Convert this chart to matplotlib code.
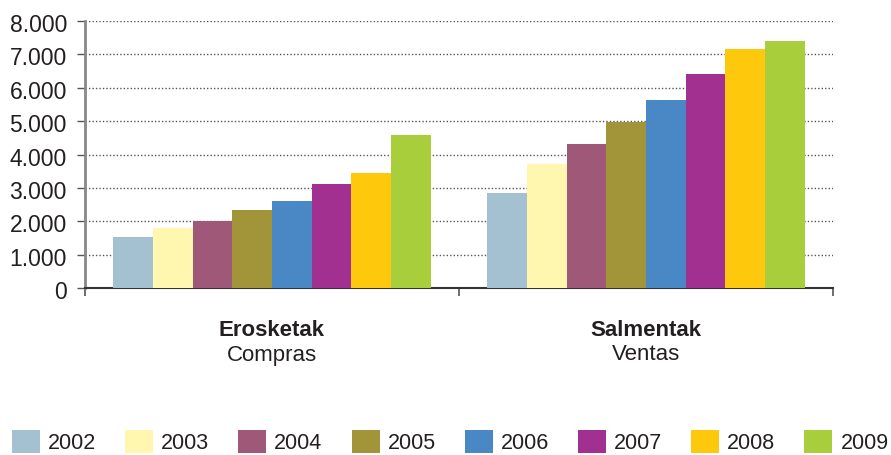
import numpy as np
import matplotlib.pyplot as plt
from matplotlib.ticker import FuncFormatter
from matplotlib.transforms import blended_transform_factory, ScaledTranslation

plt.rcParams['font.family'] = ['Liberation Sans', 'DejaVu Sans']

# datos: compras y ventas por año
categorias = ['Erosketak', 'Salmentak']
subtitulos = ['Compras', 'Ventas']
anios = ['2002', '2003', '2004', '2005', '2006', '2007', '2008', '2009']
erosketak = [1536, 1805, 2015, 2344, 2613, 3122, 3451, 4589]
salmentak = [2853, 3721, 4319, 4978, 5636, 6414, 7162, 7401]
colores = ['#a3c1d1', '#fff7b0', '#a05878', '#a29438',
           '#4a87c5', '#a23090', '#fec90c', '#a8ce3b']

fig = plt.figure(figsize=(8.91, 4.55), dpi=100)
ax = fig.add_axes([85/891, 1 - 288/455, 748/891, 267/455])

n = len(anios)
ancho = 0.848 / n
x = np.arange(len(categorias))
for i, anio in enumerate(anios):
    pos = x - 0.424 + ancho * (i + 0.5)
    ax.bar(pos, [erosketak[i], salmentak[i]], width=ancho,
           color=colores[i], label=anio, zorder=3, linewidth=0)

ax.set_xlim(-0.5, 1.5)
ax.set_ylim(0, 8000)
ax.set_yticks(range(0, 8001, 1000))
ax.yaxis.set_major_formatter(FuncFormatter(lambda v, p: f'{int(v):,}'.replace(',', '.')))
ax.tick_params(axis='y', direction='out', length=6, width=1, color='#555555',
               labelsize=16.5, labelcolor='#231f20', pad=7)
desplaza = ScaledTranslation(0, -2/100, fig.dpi_scale_trans)
for lab in ax.get_yticklabels():
    lab.set_transform(lab.get_transform() + desplaza)

# ticks del eje x en los límites de cada grupo
ax.set_xticks([-0.5, 0.5, 1.5])
ax.set_xticklabels([])
ax.tick_params(axis='x', direction='out', length=6, width=1.2, color='#555555')

ax.yaxis.grid(True, linestyle=(0, (1, 1.5)), color='#555555', linewidth=1, zorder=0)
ax.set_axisbelow(True)

for s in ['top', 'right']:
    ax.spines[s].set_visible(False)
ax.spines['left'].set_color('#888888')
ax.spines['left'].set_linewidth(2)
ax.spines['bottom'].set_color('#333333')
ax.spines['bottom'].set_linewidth(1.5)

# etiquetas de categoría en dos líneas
tr = blended_transform_factory(ax.transData, fig.transFigure)
for i, (cat, sub) in enumerate(zip(categorias, subtitulos)):
    ax.text(i, 1 - 330/455, cat, transform=tr, ha='center', va='center',
            fontsize=16, fontweight='bold', color='#231f20')
    ax.text(i, 1 - 355/455, sub, transform=tr, ha='center', va='center',
            fontsize=16, color='#231f20')

fig.legend(loc='upper left', bbox_to_anchor=(12/891, 1 - 430/455), ncol=n,
           frameon=False, fontsize=15.5, handlelength=1.3, handleheight=1.3,
           handletextpad=0.37, columnspacing=1.35, borderpad=0, borderaxespad=0,
           labelcolor='#231f20')

fig.savefig('out.png', dpi=100)
